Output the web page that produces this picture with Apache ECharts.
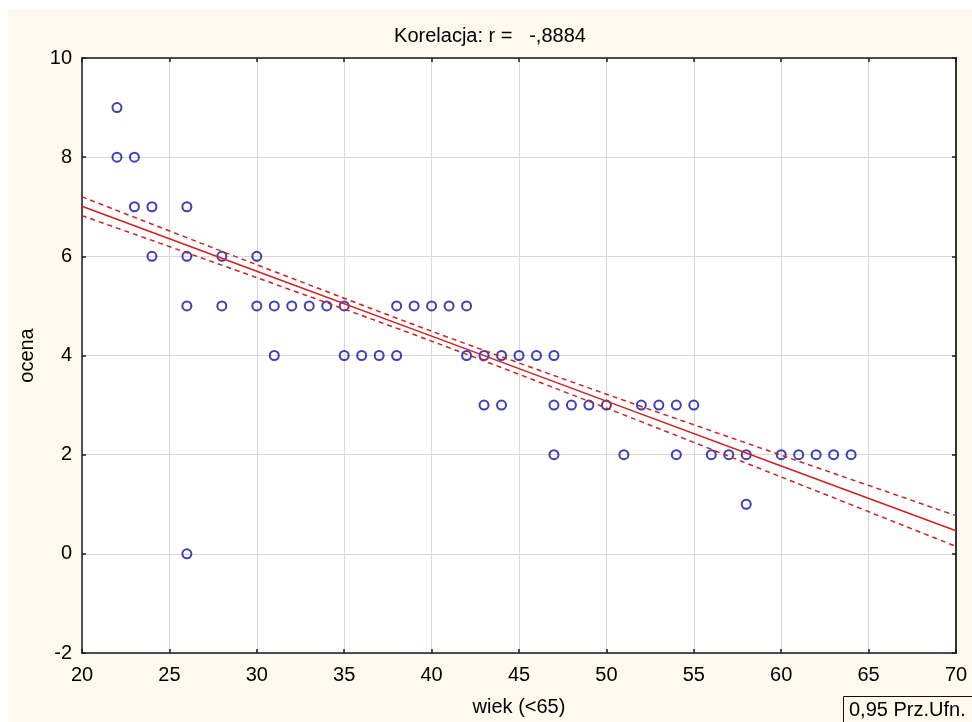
<!DOCTYPE html>
<html>
<head>
<meta charset="utf-8">
<script src="https://cdn.jsdelivr.net/npm/echarts@6/dist/echarts.min.js"></script>
<style>
  html, body { margin: 0; padding: 0; background: #ffffff; }
  #chart { position: absolute; left: 8px; top: 9px; width: 964px; height: 713px; }
</style>
</head>
<body>
<div id="chart"></div>
<script>
// ---- data ----
const titleText = 'Korelacja: r =   -,8884';
const xName = 'wiek (<65)';
const yName = 'ocena';
const ciLabel = '0,95 Prz.Ufn.';

const wiek  = [22, 22, 23, 23, 24, 24, 26, 26, 26, 26, 28, 28, 30, 30, 31, 31, 32, 33, 34, 35, 35, 36, 37, 38, 38, 39, 40, 41, 42, 42, 43, 43, 44, 44, 45, 46, 47, 47, 47, 48, 49, 50, 51, 52, 53, 54, 54, 55, 56, 57, 58, 58, 60, 61, 62, 63, 64];
const ocena = [ 9,  8,  8,  7,  7,  6,  7,  6,  5,  0,  6,  5,  6,  5,  5,  4,  5,  5,  5,  5,  4,  4,  4,  5,  4,  5,  5,  5,  5,  4,  4,  3,  4,  3,  4,  4,  4,  3,  2,  3,  3,  3,  2,  3,  3,  3,  2,  3,  2,  2,  2,  1,  2,  2,  2,  2,  2];

const fitX     = [20, 30, 40, 50, 60, 70];
const fitY     = [7.01, 5.70, 4.39, 3.08, 1.77, 0.465];
const upperCI  = [7.20, 5.83, 4.49, 3.22, 1.99, 0.77];
const lowerCI  = [6.82, 5.57, 4.29, 2.94, 1.55, 0.15];

const xTicks = { min: 20, max: 70, step: 5 };
const yTicks = { min: -2, max: 10, step: 2 };

// ---- build ----
const pts = wiek.map((x, i) => [x, ocena[i]]);
const zip = (xs, ys) => xs.map((x, i) => [x, ys[i]]);

const font = "'Liberation Sans', Arial, sans-serif";
const axisLineStyle = { color: '#1a1a1a', width: 1.5 };
const gridLineStyle = { color: '#d8d8d8', width: 1 };
const red = '#d02020';

const chart = echarts.init(document.getElementById('chart'), null, { renderer: 'canvas' });
chart.setOption({
  backgroundColor: '#fdf9ef',
  animation: false,
  title: {
    text: titleText,
    left: 'center',
    top: 12,
    textStyle: { fontFamily: font, fontSize: 20, fontWeight: 'normal', color: '#000' }
  },
  grid: {
    left: 74, top: 49, right: 16, bottom: 66,
    show: true, backgroundColor: '#ffffff', borderWidth: 0
  },
  xAxis: [{
    type: 'value', min: xTicks.min, max: xTicks.max, interval: xTicks.step,
    position: 'bottom',
    name: xName, nameLocation: 'middle', nameGap: 44,
    nameTextStyle: { fontFamily: font, fontSize: 20, color: '#000' },
    axisLine: { show: true, onZero: false, lineStyle: axisLineStyle },
    axisTick: { show: true, inside: true, length: 4, lineStyle: axisLineStyle },
    axisLabel: { fontFamily: font, fontSize: 20, color: '#000', margin: 12 },
    splitLine: { show: true, lineStyle: gridLineStyle }
  }, {
    type: 'value', min: xTicks.min, max: xTicks.max, interval: xTicks.step,
    position: 'top',
    axisLine: { show: true, onZero: false, lineStyle: axisLineStyle },
    axisTick: { show: true, inside: true, length: 4, lineStyle: axisLineStyle },
    axisLabel: { show: false },
    splitLine: { show: false }
  }],
  yAxis: [{
    type: 'value', min: yTicks.min, max: yTicks.max, interval: yTicks.step,
    position: 'left',
    name: yName, nameLocation: 'middle', nameGap: 45, nameRotate: 90,
    nameTextStyle: { fontFamily: font, fontSize: 20, color: '#000' },
    axisLine: { show: true, onZero: false, lineStyle: axisLineStyle },
    axisTick: { show: true, inside: true, length: 4, lineStyle: axisLineStyle },
    axisLabel: { fontFamily: font, fontSize: 20, color: '#000', margin: 10 },
    splitLine: { show: true, lineStyle: gridLineStyle }
  }, {
    type: 'value', min: yTicks.min, max: yTicks.max, interval: yTicks.step,
    position: 'right',
    axisLine: { show: true, onZero: false, lineStyle: { color: '#333', width: 2 } },
    axisTick: { show: true, inside: true, length: 4, lineStyle: axisLineStyle },
    axisLabel: { show: false },
    splitLine: { show: false }
  }],
  series: [{
    type: 'scatter',
    data: pts,
    symbol: 'circle',
    symbolSize: 9,
    itemStyle: { color: 'rgba(0,0,0,0)', borderColor: '#1010a0', borderWidth: 2 },
    z: 3
  }, {
    type: 'line', data: zip(fitX, fitY), showSymbol: false, symbol: 'none',
    lineStyle: { color: red, width: 1.5 }, z: 4
  }, {
    type: 'line', data: zip(fitX, upperCI), showSymbol: false, symbol: 'none', smooth: 0.3,
    lineStyle: { color: red, width: 1.5, type: [5, 4] }, z: 4
  }, {
    type: 'line', data: zip(fitX, lowerCI), showSymbol: false, symbol: 'none', smooth: 0.3,
    lineStyle: { color: red, width: 1.5, type: [5, 4] }, z: 4
  }],
  graphic: [{
    type: 'rect',
    left: 835, top: 687,
    shape: { width: 140, height: 40 },
    style: { fill: 'rgba(0,0,0,0)', stroke: '#111', lineWidth: 1 }
  }, {
    type: 'text',
    left: 841, top: 691,
    style: { text: ciLabel, font: "20px 'Liberation Sans', Arial, sans-serif", fill: '#000' }
  }]
});
</script>
</body>
</html>
